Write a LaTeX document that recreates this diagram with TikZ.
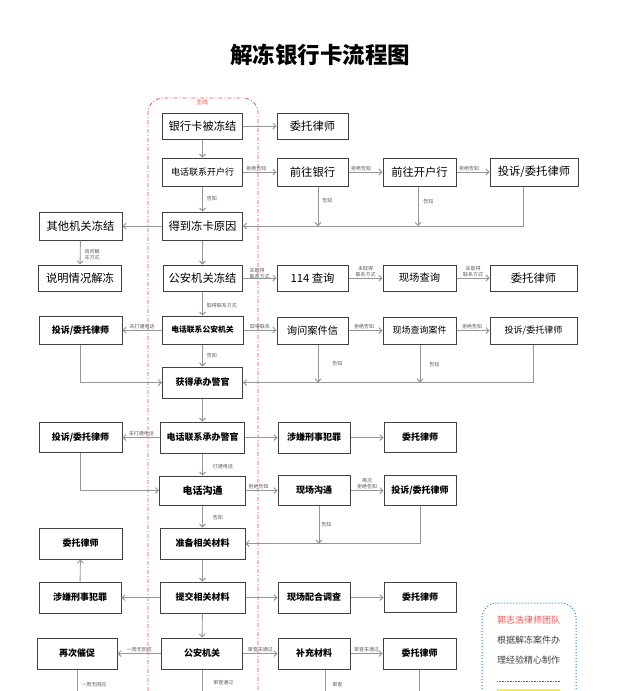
\documentclass[tikz,border=0pt]{standalone}
\usepackage{fontspec}
\newfontfamily\cjk{Noto Sans CJK SC}
\usetikzlibrary{arrows.meta}
\definecolor{boxc}{RGB}{64,64,64}
\definecolor{linec}{RGB}{150,150,150}
\definecolor{lblc}{RGB}{90,90,90}
\definecolor{redc}{RGB}{240,80,80}
\definecolor{bluec}{RGB}{30,120,210}
\definecolor{yelc}{RGB}{255,240,40}
\tikzset{
  box/.style={draw=boxc, line width=1pt, inner sep=0pt, fill=white},
  big/.style={font=\cjk\fontsize{11.3}{12}\selectfont},
  mid/.style={font=\cjk\fontsize{10.3}{11}\selectfont},
  sml/.style={font=\cjk\fontsize{9}{10}\selectfont},
  smb/.style={font=\cjk\bfseries\fontsize{9}{10}\selectfont},
  tiny/.style={font=\cjk\bfseries\fontsize{7.8}{9}\selectfont},
  conn/.style={draw=linec, line width=0.9pt, -{Straight Barb[length=3pt,width=6pt]}},
  plain/.style={draw=linec, line width=0.9pt},
  lbl/.style={font=\cjk\fontsize{5}{6}\selectfont, text=lblc, inner sep=1pt, align=center}
}
\newcommand\mybox[7]{\node[box,#6,minimum width=#4pt,minimum height=#5pt] (#1) at (#2,#3) {#7};}
\begin{document}
\begin{tikzpicture}[x=1pt,y=-1pt]
\useasboundingbox (0,0) rectangle (640,691);
% title
\node[font=\cjk\bfseries\fontsize{22.5}{24}\selectfont] (title) at (320,55) {解冻银行卡流程图};
% main line frame
\draw[redc, line width=0.8pt, dash pattern=on 4pt off 2pt on 1pt off 2pt, rounded corners=15pt]
  (148,691) -- (148,98) -- (258,98) -- (258,691);
\node[font=\cjk\fontsize{6}{7}\selectfont, text=redc, inner sep=0.5pt] (mainlbl) at (202,102) {主线};
% boxes
\mybox{A1}{202.5}{126}{80}{26}{big}{银行卡被冻结}
\mybox{B1}{312.5}{126}{71}{26}{big}{委托律师}
\mybox{A2}{202.5}{172}{80}{28}{sml}{电话联系开户行}
\mybox{B2}{312.5}{172}{71}{28}{big}{前往银行}
\mybox{C2}{419.5}{172}{73}{28}{big}{前往开户行}
\mybox{D2}{534}{172}{88}{28}{big}{投诉/委托律师}
\mybox{L3}{80.5}{226}{83}{28}{big}{其他机关冻结}
\mybox{A3}{202.5}{226}{80}{28}{big}{得到冻卡原因}
\mybox{L4}{80}{278}{83}{26}{big}{说明情况解冻}
\mybox{A4}{202.5}{278}{79}{26}{big}{公安机关冻结}
\mybox{B4}{312.5}{278}{71}{26}{big}{114 查询}
\mybox{C4}{419.5}{278}{73}{26}{mid}{现场查询}
\mybox{D4}{533.5}{278}{87}{26}{big}{委托律师}
\mybox{L5}{80.5}{330}{83}{28}{smb}{投诉/委托律师}
\mybox{A5}{202.5}{330}{81}{28}{tiny}{电话联系公安机关}
\mybox{B5}{312.5}{330.5}{71}{27}{mid}{询问案件信}
\mybox{C5}{419.5}{330.5}{73}{27}{sml}{现场查询案件}
\mybox{D5}{533.5}{330.5}{87}{27}{sml}{投诉/委托律师}
\mybox{A6}{202.5}{382.5}{80}{31}{smb}{获得承办警官}
\mybox{L7}{80.5}{437.5}{83}{30}{smb}{投诉/委托律师}
\mybox{A7}{202.5}{437.5}{84}{31}{smb}{电话联系承办警官}
\mybox{B7}{314}{437.5}{72}{31}{smb}{涉嫌刑事犯罪}
\mybox{C7}{420}{437.5}{72}{30}{smb}{委托律师}
\mybox{A8}{202.5}{490.5}{86}{29}{font=\cjk\bfseries\fontsize{10}{11}\selectfont}{电话沟通}
\mybox{B8}{314}{490.5}{72}{30}{smb}{现场沟通}
\mybox{C8}{420}{490.5}{72}{30}{smb}{投诉/委托律师}
\mybox{L9}{80.5}{543.5}{83}{31}{smb}{委托律师}
\mybox{A9}{202.5}{543.5}{85}{31}{smb}{准备相关材料}
\mybox{L10}{80}{597.5}{82}{31}{smb}{涉嫌刑事犯罪}
\mybox{A10}{202.5}{597.5}{85}{31}{smb}{提交相关材料}
\mybox{B10}{314}{597.5}{72}{31}{smb}{现场配合调查}
\mybox{C10}{420}{597.5}{72}{30}{smb}{委托律师}
\mybox{L11}{77}{653.5}{80}{31}{smb}{再次催促}
\mybox{A11}{202}{653.5}{81}{31}{smb}{公安机关}
\mybox{B11}{314}{653.5}{72}{31}{smb}{补充材料}
\mybox{C11}{419.5}{653.5}{73}{31}{smb}{委托律师}
\coordinate (bot) at (0,691);
% connectors row 1-3
\draw[conn] (A1) -- (B1);
\draw[conn] (A1) -- (A2);
\draw[conn] (A2) -- node[lbl,pos=0.4,above]{拒绝告知} (B2);
\draw[conn] (B2) -- node[lbl,pos=0.37,above]{拒绝告知} (C2);
\draw[conn] (C2) -- node[lbl,pos=0.38,above]{拒绝告知} (D2);
\draw[conn] (A2) -- node[lbl,pos=0.5,anchor=west,xshift=3pt]{告知} (A3);
\draw[conn] ([xshift=5.5pt]B2.south) -- node[lbl,pos=0.36,anchor=west,xshift=3pt]{告知} ([xshift=5.5pt]B2.south |- A3.east);
\draw[conn] ([xshift=-1.5pt]C2.south) -- node[lbl,pos=0.39,anchor=west,xshift=4pt]{告知} ([xshift=-1.5pt]C2.south |- A3.east);
\draw[conn] ([xshift=-11pt]D2.south) |- (A3.east);
\draw[conn] (A3) -- (L3);
\draw[conn] (L3) -- node[lbl,pos=0.6,anchor=west,xshift=3pt]{询问解\\冻方式} (L4);
\draw[conn] (A3) -- (A4);
% row 4
\draw[conn] (A4) -- node[lbl,pos=0.17,anchor=west,align=left,yshift=4pt]{未取得\\联系方式} (B4);
\draw[conn] (B4) -- node[lbl,pos=0.5,above]{未取得\\联系方式} (C4);
\draw[conn] (C4) -- node[lbl,pos=0.5,above]{未取得\\联系方式} (D4);
\draw[conn] (A4) -- node[lbl,pos=0.6,anchor=west,xshift=3pt]{取得联系方式} (A5);
% row 5
\draw[conn] (A5) -- node[lbl,pos=0.5,above]{取得联系} (A5.east -| B5.west);
\draw[conn] (B5) -- node[lbl,pos=0.46,above]{拒绝告知} (C5);
\draw[conn] (C5) -- node[lbl,pos=0.47,above]{拒绝告知} (D5);
\draw[conn] (A5) -- node[lbl,pos=0.5,above]{未打通电话} (L5);
\draw[conn] ([xshift=5.5pt]B5.south) -- node[lbl,pos=0.5,anchor=west,xshift=13pt]{告知} ([xshift=5.5pt]B5.south |- A6.east);
\draw[conn] ([xshift=0.5pt]C5.south) -- node[lbl,pos=0.52,anchor=west,xshift=8pt]{告知} ([xshift=0.5pt]C5.south |- A6.east);
\draw[conn] (D5.south) |- (A6.east);
\draw[conn] (L5.south) |- (A6.west);
\draw[conn] (A5) -- node[lbl,pos=0.52,anchor=west,xshift=3pt]{告知} (A6);
\draw[conn] (A6) -- (A7);
% row 7
\draw[conn] (A7) -- node[lbl,pos=0.5,above]{未打通电话} (L7);
\draw[conn] (A7) -- (B7);
\draw[conn] (B7) -- (C7);
\draw[conn] (A7) -- node[lbl,pos=0.6,anchor=west,xshift=9pt]{打通电话} (A8);
\draw[conn] (L7.south) |- (A8.west);
% row 8
\draw[conn] (A8) -- node[lbl,pos=0.4,above]{拒绝告知} (B8);
\draw[conn] (B8) -- node[lbl,pos=0.5,above]{再次\\拒绝告知} (C8);
\draw[conn] (A8) -- node[lbl,pos=0.55,anchor=west,xshift=9pt]{告知} (A9);
\draw[conn] ([xshift=5pt]B8.south) -- node[lbl,pos=0.5,anchor=west,xshift=1pt]{告知} ([xshift=5pt]B8.south |- A9.east);
\draw[conn] (C8.south) |- (A9.east);
% rows 9-11
\draw[conn] (A9) -- (A10);
\draw[conn] (A10) -- (L10);
\draw[conn] (L10) -- (L9);
\draw[conn] (A10) -- (B10);
\draw[conn] (B10) -- (C10);
\draw[conn] (A10) -- (A11);
\draw[conn] (A11) -- node[lbl,pos=0.5,above]{一周无回应} (L11);
\draw[conn] (A11) -- node[lbl,pos=0.5,above]{审查未通过} (B11);
\draw[conn] (B11) -- node[lbl,pos=0.5,above]{审查未通过} (C11);
\draw[plain] (L11.south) -- node[lbl,pos=0.68,anchor=west,xshift=3pt]{一周无回应} (L11.south |- bot);
\draw[plain] (A11.south) -- node[lbl,pos=0.6,anchor=west,xshift=10pt]{审查通过} (A11.south |- bot);
\draw[plain] ([xshift=11pt]B11.south) -- node[lbl,pos=0.68,anchor=west,xshift=6pt]{审查} ([xshift=11pt]B11.south |- bot);
\draw[plain] (C11.south) -- (C11.south |- bot);
% note box
\draw[bluec, line width=1pt, dotted, rounded corners=15pt]
  (482,695) -- (482,603) -- (576,603) -- (576,695);
\node[font=\cjk\fontsize{9}{10}\selectfont, text=redc, anchor=west, inner sep=0pt] (n1) at (497,620) {郭志浩律师团队};
\node[font=\cjk\fontsize{9}{10}\selectfont, text=black!75, anchor=west, inner sep=0pt] (n2) at (497,640) {根据解冻案件办};
\node[font=\cjk\fontsize{9}{10}\selectfont, text=black!75, anchor=west, inner sep=0pt] (n3) at (497,660) {理经验精心制作};
\draw[black!60, line width=0.5pt, dash pattern=on 1pt off 0.6pt] (497,681) -- (560,681);
\draw[yelc, line width=2pt] (497,690) -- (560,690);
\end{tikzpicture}
\end{document}
